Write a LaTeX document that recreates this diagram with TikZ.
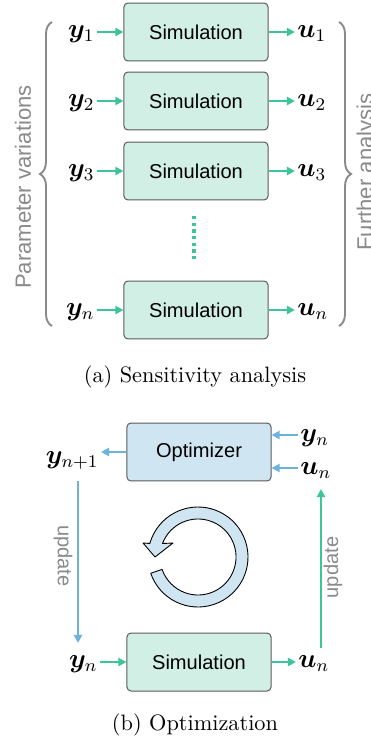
\RequirePackage{fix-cm}
\documentclass[tikz,border=0pt]{standalone}
\usepackage{fontspec}
\usepackage{bm}
\newfontfamily\boxfont{Liberation Sans}
\usetikzlibrary{arrows.meta,decorations.pathreplacing,calc}

\definecolor{simgreen}{HTML}{3CC49A}
\definecolor{simfill}{HTML}{D1EFE4}
\definecolor{optblue}{HTML}{6BB3DD}
\definecolor{optfill}{HTML}{D0E5F2}
\definecolor{edgegray}{HTML}{5A5A5A}
\definecolor{labelgray}{HTML}{8A8A8A}

% one drawing unit = 0.4484pt; all lengths below are given in these units
\tikzset{
  simbox/.style={draw=edgegray, line width=0.45pt, fill=simfill, rounded corners=1.8pt,
    minimum width=64.6pt, minimum height=26pt, inner sep=0pt,
    font=\boxfont\fontsize{9}{11}\selectfont},
  optbox/.style={simbox, fill=optfill},
  var/.style={inner xsep=0.9pt, inner ysep=0pt, font=\fontsize{12}{14}\selectfont},
  greenarrow/.style={draw=simgreen, line width=0.9pt, -{Triangle[length=3.6pt,width=3.6pt]}},
  bluearrow/.style={draw=optblue, line width=0.9pt, -{Triangle[length=3.6pt,width=3.6pt]}},
  sidebrace/.style={draw=labelgray, line width=0.85pt,
    decorate, decoration={brace, amplitude=5.4pt}},
  sidelabel/.style={inner sep=0pt, text=labelgray,
    font=\boxfont\fontsize{9.9}{12}\selectfont},
  updatelabel/.style={inner sep=0pt, text=labelgray,
    font=\boxfont\fontsize{9}{11}\selectfont},
  caption/.style={inner sep=0pt, anchor=base, font=\fontsize{10}{12}\selectfont},
  cyclearrow/.style={fill=optfill, draw=black, line width=0.4pt, line join=round}
}

\begin{document}
\begin{tikzpicture}[x=0.4484pt, y=-0.4484pt]
\useasboundingbox (0,0) rectangle (370,740);
\clip (0,0) rectangle (370,740);

% ---------- (a) sensitivity analysis ----------
\node[simbox] (s1) at (196,32)  {Simulation};
\node[simbox] (s2) at (196,101) {Simulation};
\node[simbox] (s3) at (196,171) {Simulation};
\node[simbox] (sn) at (196,310) {Simulation};

\node[var, anchor=base east] (y1) at (97,37.5)  {$\bm{y}_1$};
\node[var, anchor=base east] (y2) at (97,106.5) {$\bm{y}_2$};
\node[var, anchor=base east] (y3) at (97,176.5) {$\bm{y}_3$};
\node[var, anchor=base east] (yN) at (97,315.5) {$\bm{y}_n$};

\node[var, anchor=base west] (u1) at (295,37.5)  {$\bm{u}_1$};
\node[var, anchor=base west] (u2) at (295,106.5) {$\bm{u}_2$};
\node[var, anchor=base west] (u3) at (295,176.5) {$\bm{u}_3$};
\node[var, anchor=base west] (uN) at (295,315.5) {$\bm{u}_n$};

\foreach \i in {1,2,3} {
  \draw[greenarrow] (y\i.east |- s\i.west) -- (s\i.west);
  \draw[greenarrow] (s\i.east) -- (u\i.west |- s\i.east);
}
\draw[greenarrow] (yN.east |- sn.west) -- (sn.west);
\draw[greenarrow] (sn.east) -- (uN.west |- sn.east);

% vertical ellipsis between the third and the last run
\coordinate (dotsTop) at (194,216);
\coordinate (dotsBot) at (194,260);
\draw[simgreen, line width=1.55pt, dash pattern=on 1.5pt off 1.5pt] (dotsTop) -- (dotsBot);

% braces and their side labels
\coordinate (lbTop) at (52,22);
\coordinate (lbBot) at (52,326);
\coordinate (rbTop) at (339,22);
\coordinate (rbBot) at (339,326);
\draw[sidebrace] (lbBot) -- (lbTop);
\draw[sidebrace] (rbTop) -- (rbBot);
\node[sidelabel, rotate=90] (pvar) at (23,187) {Parameter variations};
\node[sidelabel, rotate=90] (fana) at (367,172) {Further analysis};

\node[caption] (capa) at (195,382) {(a) Sensitivity analysis};

% ---------- (b) optimization ----------
\node[optbox] (opt) at (199,452) {Optimizer};
\node[simbox] (sb)  at (199,662) {Simulation};

\node[var, anchor=base east] (ynext) at (101,463) {$\bm{y}_{n+1}$};
\node[var, anchor=base west] (yin)   at (298,441) {$\bm{y}_n$};
\node[var, anchor=base west] (uin)   at (298,474) {$\bm{u}_n$};
\node[var, anchor=base east] (ycur)  at (100,667.5) {$\bm{y}_n$};
\node[var, anchor=base west] (ucur)  at (296,667.5) {$\bm{u}_n$};

\coordinate (optInY) at ($(opt.east)+(0,-17)$);
\coordinate (optInU) at ($(opt.east)+(0,16)$);
\draw[bluearrow] (yin.west |- optInY) -- (optInY);
\draw[bluearrow] (uin.west |- optInU) -- (optInU);
\draw[bluearrow] (opt.west) -- (ynext.east |- opt.west);

\draw[greenarrow] (ycur.east |- sb.west) -- (sb.west);
\draw[greenarrow] (sb.east) -- (ucur.west |- sb.east);

% update loops
\coordinate (updLTop) at (78,481);
\coordinate (updLBot) at (78,643);
\coordinate (updRBot) at (321,648);
\coordinate (updRTop) at (321,489);
\draw[bluearrow] (updLTop) -- (updLBot);
\draw[greenarrow] (updRBot) -- (updRTop);
\node[updatelabel, rotate=-90] (updL) at (63,556) {update};
\node[updatelabel, rotate=90]  (updR) at (333,567.5) {update};

% circular arrow in the middle of the loop
\coordinate (cyc) at (198,557);
\filldraw[cyclearrow]
  ([shift={(-199:50)}]cyc) arc[start angle=-199, end angle=-524.3, radius=50]
  -- (143,543) -- (155,557) -- (173,543) -- (162.5,543.5)
  arc[start angle=-519.2, end angle=-199, radius=38] -- cycle;

\node[caption] (capb) at (195,730) {(b) Optimization};
\end{tikzpicture}
\end{document}
